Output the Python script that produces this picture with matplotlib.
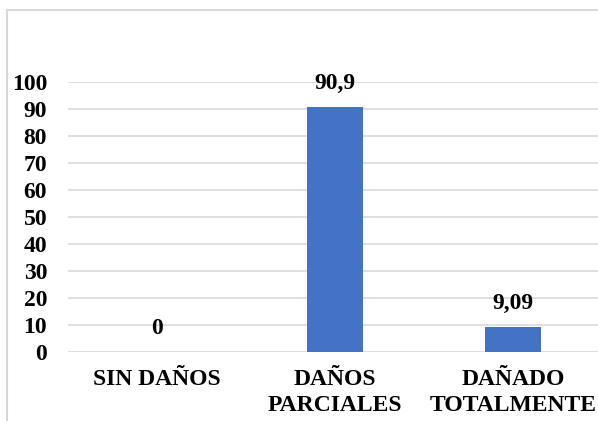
import matplotlib.pyplot as plt
from matplotlib.patches import Rectangle

categories = ['SIN DAÑOS', 'DAÑOS\nPARCIALES', 'DAÑADO\nTOTALMENTE']
values = [0, 90.9, 9.09]
labels = ['0', '90,9', '9,09']

plt.rcParams['font.family'] = ['Liberation Serif', 'DejaVu Serif']
plt.rcParams['font.weight'] = 'bold'

fig = plt.figure(figsize=(5.98, 4.21), dpi=100)
W, H = 598, 421

# outer chart border (cut off on the right and bottom like the source)
fig.patches.append(Rectangle((7 / W, -0.1), 1.2, 1.1 - 10 / H,
                             transform=fig.transFigure, fill=False,
                             edgecolor='#d9d9d9', linewidth=1.5))

left = 68
step = 178  # px per category
ax = fig.add_axes([left / W, (H - 352) / H, (W - left) / W, 270 / H])
x = range(len(categories))
ax.bar(x, values, width=0.31, color='#4472c4', zorder=3)

ax.set_ylim(0, 100)
ax.set_xlim(-0.5, (W - left) / step - 0.5)
ax.set_yticks(range(0, 101, 10))
ax.yaxis.grid(True, color='#d9d9d9', linewidth=1.2, zorder=0)
ax.tick_params(axis='both', length=0, labelsize=17)
ax.tick_params(axis='y', pad=15)
ax.set_xticks(list(x))
ax.set_xticklabels(categories, fontsize=17, linespacing=1.35)
ax.tick_params(axis='x', pad=12)
for s in ax.spines.values():
    s.set_visible(False)

for xi, v, lab in zip(x, values, labels):
    ax.annotate(lab, (xi, v), xytext=(0, 13), textcoords='offset points',
                ha='center', va='baseline', fontsize=17, fontweight='bold')

fig.savefig('out.png', dpi=100)
